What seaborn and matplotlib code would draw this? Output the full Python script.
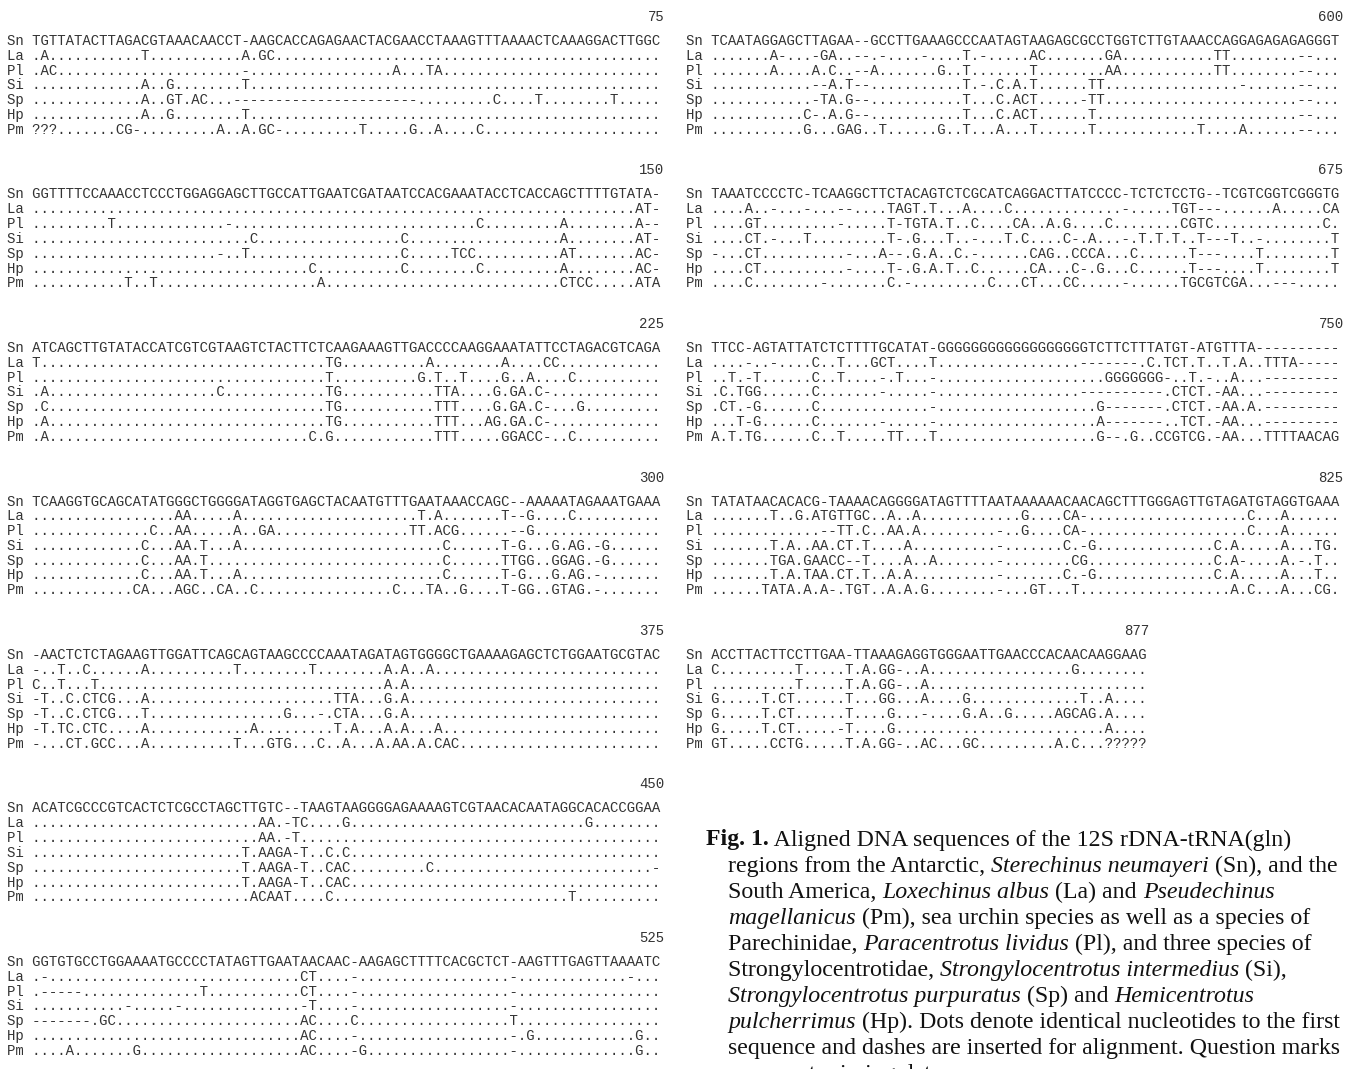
import matplotlib
matplotlib.use("Agg")
import matplotlib.pyplot as plt
import seaborn as sns

sns.set_theme(style="white")
plt.rcParams["font.family"] = ["Liberation Serif", "DejaVu Serif"]

# species codes, one row per species in every block
species = ["Sn", "La", "Pl", "Si", "Sp", "Hp", "Pm"]

# last alignment position of each block (left column, then right column)
block_ends = [75, 150, 225, 300, 375, 450, 525, 600, 675, 750, 825, 877]

# aligned rows, written in groups of ten bases (spaces are dropped)
aln_75 = [
    "TGTTATACTT AGACGTAAAC AACCT-AAGC ACCAGAGAAC TACGAACCTA AAGTTTAAAA CTCAAAGGAC TTGGC",
    ".A........ ...T...... .....A.GC. .......... .......... .......... .......... .....",
    ".AC....... .......... .....-.... .......... ...A...TA. .......... .......... .....",
    ".......... ...A..G... .....T.... .......... .......... .......... .......... .....",
    ".......... ...A..GT.A C...------ ---------- ------.... .....C.... T........T .....",
    ".......... ...A..G... .....T.... .......... .......... .......... .......... .....",
    "???....... CG-....... ..A..A.GC- .........T .....G..A. ...C...... .......... .....",
]
aln_150 = [
    "GGTTTTCCAA ACCTCCCTGG AGGAGCTTGC CATTGAATCG ATAATCCACG AAATACCTCA CCAGCTTTTG TATA-",
    ".......... .......... .......... .......... .......... .......... .......... ..AT-",
    ".........T .......... ...-...... .......... .......... ...C...... ...A...... ..A--",
    ".......... .......... ......C... .......... ....C..... .......... ...A...... ..AT-",
    ".......... .......... ..-..T.... .......... ....C..... TCC....... ...AT..... ..AC-",
    ".......... .......... .......... ...C...... ....C..... ...C...... ...A...... ..AC-",
    ".......... .T..T..... .......... ....A..... .......... .......... ...CTCC... ..ATA",
]
aln_225 = [
    "ATCAGCTTGT ATACCATCGT CGTAAGTCTA CTTCTCAAGA AAGTTGACCC CAAGGAAATA TTCCTAGACG TCAGA",
    "T......... .......... .......... .....TG... .......A.. ......A... .CC....... .....",
    ".......... .......... .......... .....T.... ......G.T. .T....G..A ....C..... .....",
    ".A........ .......... ..C....... .....TG... ........TT A....G.GA. C-........ .....",
    ".C........ .......... .......... .....TG... ........TT T....G.GA. C-...G.... .....",
    ".A........ .......... .......... .....TG... ........TT T...AG.GA. C-........ .....",
    ".A........ .......... .......... ...C.G.... ........TT T.....GGAC C-..C..... .....",
]
aln_300 = [
    "TCAAGGTGCA GCATATGGGC TGGGGATAGG TGAGCTACAA TGTTTGAATA AACCAGC--A AAAATAGAAA TGAAA",
    ".......... .......AA. ....A..... .......... ......T.A. ......T--G ....C..... .....",
    ".......... ....C..AA. ....A..GA. .......... .....TT.AC G......--G .......... .....",
    ".......... ...C...AA. T...A..... .......... .........C ......T-G. ..G.AG.-G. .....",
    ".......... ...C...AA. T......... .......... .........C ......TTGG ..GGAG.-G. .....",
    ".......... ...C...AA. T...A..... .......... .........C ......T-G. ..G.AG.-.. .....",
    ".......... ..CA...AGC ..CA..C... .......... ...C...TA. .G....T-GG ..GTAG.-.. .....",
]
aln_375 = [
    "-AACTCTCTA GAAGTTGGAT TCAGCAGTAA GCCCCAAATA GATAGTGGGG CTGAAAAGAG CTCTGGAATG CGTAC",
    "-..T..C... ...A...... ....T..... ...T...... ..A.A..A.. .......... .......... .....",
    "C..T...T.. .......... .......... .......... ..A.A..... .......... .......... .....",
    "-T..C.CTCG ...A...... .......... ......TTA. ..G.A..... .......... .......... .....",
    "-T..C.CTCG ...T...... .......... G...-.CTA. ..G.A..... .......... .......... .....",
    "-T.TC.CTC. ...A...... ......A... ......T.A. ..A.A...A. .......... .......... .....",
    "-...CT.GCC ...A...... ....T...GT G...C..A.. .A.AA.A.CA C......... .......... .....",
]
aln_450 = [
    "ACATCGCCCG TCACTCTCGC CTAGCTTGTC --TAAGTAAG GGGAGAAAAG TCGTAACACA ATAGGCACAC CGGAA",
    ".......... .......... .......AA. -TC....G.. .......... .......... ......G... .....",
    ".......... .......... .......AA. -T........ .......... .......... .......... .....",
    ".......... .......... .....T.AAG A-T..C.C.. .......... .......... .......... .....",
    ".......... .......... .....T.AAG A-T..CAC.. .......C.. .......... .......... ....-",
    ".......... .......... .....T.AAG A-T..CAC.. .......... .......... .......... .....",
    ".......... .......... ......ACAA T....C.... .......... .......... ....T..... .....",
]
aln_525 = [
    "GGTGTGCCTG GAAAATGCCC CTATAGTTGA ATAACAAC-A AGAGCTTTTC ACGCTCT-AA GTTTGAGTTA AAATC",
    ".-........ .......... .......... ..CT....-. .......... .......-.. .......... .-...",
    ".-----.... .......... T......... ..CT....-. .......... .......-.. .......... .....",
    ".......... .-.....-.. .......... ..-T....-. .......... .......-.. .......... .....",
    "-------.GC .......... .......... ..AC....C. .......... .......T.. .......... .....",
    ".......... .......... .......... ..AC....-. .......... .......-.G .......... ..G..",
    "....A..... ..G....... .......... ..AC....-G .......... .......-.. .......... ..G..",
]
aln_600 = [
    "TCAATAGGAG CTTAGAA--G CCTTGAAAGC CCAATAGTAA GAGCGCCTGG TCTTGTAAAC CAGGAGAGAG AGGGT",
    ".......A-. ..-GA..--. -....-.... T.-.....AC .......GA. .......... TT........ --...",
    ".......A.. ..A.C..--A .......G.. T.......T. .......AA. .......... TT........ --...",
    ".......... ..--A.T--. .......... T.-.C.A.T. .....TT... .......... ...-...... --...",
    ".......... ..-TA.G--. .......... T...C.ACT. ....-TT... .......... .......... --...",
    ".......... .C-.A.G--. .......... T...C.ACT. .....T.... .......... .......... --...",
    ".......... .G...GAG.. T......G.. T...A...T. .....T.... ........T. ...A...... --...",
]
aln_675 = [
    "TAAATCCCCT C-TCAAGGCT TCTACAGTCT CGCATCAGGA CTTATCCCC- TCTCTCCTG- -TCGTCGGTC GGGTG",
    "....A..-.. .-...--... .TAGT.T... A....C.... .........- .....TGT-- -......A.. ...CA",
    "....GT.... .....-.... .T-TGTA.T. .C....CA.. A.G....C.. ......CGTC .......... ...C.",
    "....CT.-.. .T........ .T-.G...T. .-...T.C.. ..C-.A...- .T.T.T..T- --T..-.... ....T",
    "-...CT.... ......-... A--.G.A..C .-......CA G..CCCA... C......T-- -....T.... ....T",
    "....CT.... ......-... .T-.G.A.T. .C......CA ...C-.G... C......T-- -....T.... ....T",
    "....C..... ...-...... .C.-...... ...C...CT. ..CC.....- ......TGCG TCGA...--- .....",
]
aln_750 = [
    "TTCC-AGTAT TATCTCTTTT GCATAT-GGG GGGGGGGGGG GGGGGTCTTC TTTATGT-AT GTTTA----- -----",
    "....-..-.. ..C..T...G CT....T... .......... ....------ -.C.TCT.T. .T.A..TTTA -----",
    "..T.-T.... ..C..T.... -.T...-... .......... .......GGG GGGG-..T.- ..A...---- -----",
    ".C.TGG.... ..C....... -.....-... .......... ....------ ----.CTCT. -AA...---- -----",
    ".CT.-G.... ..C....... ......-... .......... ......G--- ----.CTCT. -AA.A.---- -----",
    "...T-G.... ..C....... -.....-... .......... ......A--- ----..TCT. -AA...---- -----",
    "A.T.TG.... ..C..T.... .TT...T... .......... ......G--. G..CCGTCG. -AA...TTTT AACAG",
]
aln_825 = [
    "TATATAACAC ACG-TAAAAC AGGGGATAGT TTTAATAAAA AACAACAGCT TTGGGAGTTG TAGATGTAGG TGAAA",
    ".......T.. G.ATGTTGC. .A..A..... .......G.. ..CA-..... .......... ....C...A. .....",
    ".......... ...--TT.C. .AA.A..... ....-..G.. ..CA-..... .......... ....C...A. .....",
    ".......T.A ..AA.CT.T. ...A...... ....-..... ..C.-G.... .......... C.A.....A. ..TG.",
    ".......TGA .GAACC--T. ...A..A... ....-..... ...CG..... .......... C.A-....A. -.T..",
    ".......T.A .TAA.CT.T. .A.A...... ....-..... ..C.-G.... .......... C.A.....A. ..T..",
    "......TATA .A.A-.TGT. .A.A.G.... ....-...GT ...T...... .......... ..A.C...A. ..CG.",
]
aln_877 = [
    "ACCTTACTTC CTTGAA-TTA AAGAGGTGGG AATTGAACCC ACAACAAGGA AG",
    "C......... T.....T.A. GG-..A.... .......... ...G...... ..",
    ".......... T.....T.A. GG-..A.... .......... .......... ..",
    "G.....T.CT ......T... GG...A.... G......... ....T..A.. ..",
    "G.....T.CT ......T... .G...-.... G.A..G.... .AGCAG.A.. ..",
    "G.....T.CT .....-T... .G........ .......... .......A.. ..",
    "GT.....CCT G.....T.A. GG-..AC... GC........ .A.C...??? ??",
]

blocks = [aln_75, aln_150, aln_225, aln_300, aln_375, aln_450, aln_525,
          aln_600, aln_675, aln_750, aln_825, aln_877]

# caption lines as (text, style) pieces
caption = [
    [("Fig. 1.", "bold"), (" Aligned DNA sequences of the 12S rDNA-tRNA(gln)", "normal")],
    [("regions from the Antarctic, ", "normal"), ("Sterechinus neumayeri", "italic"), (" (Sn), and the", "normal")],
    [("South America, ", "normal"), ("Loxechinus albus", "italic"), (" (La) and ", "normal"), ("Pseudechinus", "italic")],
    [("magellanicus", "italic"), (" (Pm), sea urchin species as well as a species of", "normal")],
    [("Parechinidae, ", "normal"), ("Paracentrotus lividus", "italic"), (" (Pl), and three species of", "normal")],
    [("Strongylocentrotidae, ", "normal"), ("Strongylocentrotus intermedius", "italic"), (" (Si),", "normal")],
    [("Strongylocentrotus purpuratus", "italic"), (" (Sp) and ", "normal"), ("Hemicentrotus", "italic")],
    [("pulcherrimus", "italic"), (" (Hp). Dots denote identical nucleotides to the first", "normal")],
    [("sequence and dashes are inserted for alignment. Question marks", "normal")],
    [("represent missing data.", "normal")],
]

W, H = 1348, 1069
fig = plt.figure(figsize=(W / 100, H / 100), dpi=100)
ax = fig.add_axes([0, 0, 1, 1])
ax.set_xlim(0, W)
ax.set_ylim(H, 0)
ax.axis("off")

cw = 8.43                      # width of one base in pixels
mono_pt = cw / 0.6 * 72 / 100  # Liberation Mono advance is 0.6 em
col_x = [7, 686]
period = 153.5
line_h = 14.8
seq_col = "#333333"

for i, (end, rows) in enumerate(zip(block_ends, blocks)):
    col, r = (0, i) if i < 7 else (1, i - 7)
    x = col_x[col]
    top = 17 + r * period
    rows = [s.replace(" ", "") for s in rows]
    n = len(rows[0])
    ax.text(x + (n + 3) * cw, top, str(end), ha="right", va="center",
            family="Liberation Mono", fontsize=mono_pt, color=seq_col)
    for k, (code, s) in enumerate(zip(species, rows)):
        s = s.ljust(n, ".")[:n]
        ax.text(x, top + 24 + k * line_h, code + " " + s, ha="left", va="center",
                family="Liberation Mono", fontsize=mono_pt, color=seq_col)

# caption with hanging indent
fig.canvas.draw()
renderer = fig.canvas.get_renderer()
cap_pt = 17.2
cap_y0 = 840
cap_dy = 26.1
for j, pieces in enumerate(caption):
    xx = 706 if j == 0 else 728
    yy = cap_y0 + j * cap_dy
    for txt, style in pieces:
        t = ax.text(xx, yy, txt, ha="left", va="center", fontsize=cap_pt,
                    family="Liberation Serif", color="#111111",
                    fontweight="bold" if style == "bold" else "normal",
                    fontstyle="italic" if style == "italic" else "normal")
        xx += t.get_window_extent(renderer).width

fig.savefig("out.png", dpi=100)
